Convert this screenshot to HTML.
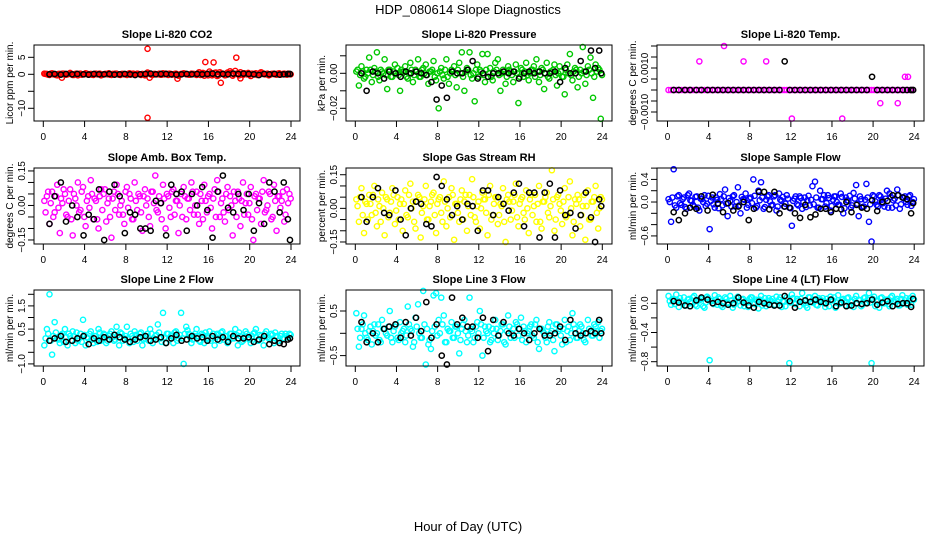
<!DOCTYPE html>
<html><head><meta charset="utf-8"><style>
html,body{margin:0;padding:0;background:#fff;}
svg{display:block;font-family:"Liberation Sans",Arial,sans-serif;}
</style></head><body>
<svg id="chart" width="936" height="540" viewBox="0 0 936 540">
<text x="468" y="14" font-size="13" text-anchor="middle">HDP_080614  Slope Diagnostics</text>
<text x="468" y="531" font-size="13" text-anchor="middle">Hour of Day (UTC)</text>
</svg>
<script>
const tColor=[0.1,0.35,0.6,0.85,1.1,1.35,1.6,1.85,2.1,2.35,2.6,2.85,3.1,3.35,3.6,3.85,4.1,4.35,4.6,4.85,5.1,5.35,5.6,5.85,6.1,6.35,6.6,6.85,7.1,7.35,7.6,7.85,8.1,8.35,8.6,8.85,9.1,9.35,9.6,9.85,10.1,10.35,10.6,10.85,11.1,11.35,11.6,11.85,12.1,12.35,12.6,12.85,13.1,13.35,13.6,13.85,14.1,14.35,14.6,14.85,15.1,15.35,15.6,15.85,16.1,16.35,16.6,16.85,17.1,17.35,17.6,17.85,18.1,18.35,18.6,18.85,19.1,19.35,19.6,19.85,20.1,20.35,20.6,20.85,21.1,21.35,21.6,21.85,22.1,22.35,22.6,22.85,23.1,23.35,23.6,23.85];
const tColor2=[0.22,0.47,0.72,0.97,1.22,1.47,1.72,1.97,2.22,2.47,2.72,2.97,3.22,3.47,3.72,3.97,4.22,4.47,4.72,4.97,5.22,5.47,5.72,5.97,6.22,6.47,6.72,6.97,7.22,7.47,7.72,7.97,8.22,8.47,8.72,8.97,9.22,9.47,9.72,9.97,10.22,10.47,10.72,10.97,11.22,11.47,11.72,11.97,12.22,12.47,12.72,12.97,13.22,13.47,13.72,13.97,14.22,14.47,14.72,14.97,15.22,15.47,15.72,15.97,16.22,16.47,16.72,16.97,17.22,17.47,17.72,17.97,18.22,18.47,18.72,18.97,19.22,19.47,19.72,19.97,20.22,20.47,20.72,20.97,21.22,21.47,21.72,21.97,22.22,22.47,22.72,22.97,23.22,23.47,23.72,23.97];
const tBlack=[0.6,1.1,1.7,2.2,2.8,3.3,3.9,4.4,4.9,5.4,5.9,6.4,6.9,7.4,7.9,8.4,8.9,9.4,9.9,10.4,10.9,11.4,11.9,12.4,12.9,13.4,13.9,14.4,14.9,15.4,15.9,16.4,16.9,17.4,17.9,18.4,18.9,19.4,19.9,20.4,20.9,21.4,21.9,22.4,22.9,23.3,23.7,23.9];
const xTicks=[0,4,8,12,16,20,24];

const co2Color=[0.2,0.1,-0.2,0.3,0,-0.3,0.1,0.2,-0.1,0,0.4,-0.2,0.1,-0.3,0.2,0,0.3,-0.1,0.1,-0.2,0.2,0.1,-0.3,0,0.1,0.3,-0.2,0,0.2,-0.1,0.1,0,-0.2,0.3,0.1,-0.1,0.2,0,0.1,-0.3,0.5,0.2,-0.2,0.1,0,-0.1,0.3,0.2,-0.2,0.1,0,0.2,-0.4,0.1,0.3,0,-0.1,0.2,0.1,-0.2,0.6,0.3,-0.4,0.2,0.8,-0.3,0.4,-0.5,0.6,0.2,-0.3,0.5,0.9,-0.4,1.0,0.3,0.6,-0.2,0.2,0.4,-0.5,0.1,0.3,-0.2,0.6,0.2,0,-0.3,0.1,0.2,-0.1,0.3,0,0.2,-0.1,0.1];
const co2Color2=[0.1,-0.1,0.2,0,-0.2,0.1,0,0.2,-0.1,0.1,0,-0.2,0.2,0.1,-0.1,0,0.2,0,-0.1,0.1,0,0.2,-0.1,0.1,0,-0.1,0.1,0.2,0,-0.2,0.1,0,0.1,-0.1,0.2,0,0.1,-0.2,0,0.1,0.2,-0.1,0.1,0,0.2,-0.1,0,0.1,0.2,-0.1,0.1,0,-0.2,0.1,0.2,0,-0.1,0.1,0,0.2,-0.2,0.4,0.1,-0.3,0.3,0,0.5,-0.3,0.2,0.1,-0.2,0.3,0.4,0,0.2,-0.3,0.1,0.3,0,-0.1,0.2,0,-0.2,0.3,0.1,0,0.2,-0.1,0.1,0,0.2,-0.1,0.1,0,0.2,0];
const co2Black=[0,0.1,-0.1,0.1,0,0.1,0,-0.1,0.1,0,0,0.1,-0.1,0,0.1,0,-0.2,0,0.1,0.2,0,0.1,0.1,0,-0.1,0,0.1,0,0.1,0,0.1,0.2,0,0.1,0,0.2,0.1,0.2,0.1,0,-0.2,0.1,0,0.1,-0.1,0,0.1,0.1];
const co2OutX=[10.1,10.1,15.7,16.5,18.7,17.2,1.8,13.0,19.1,10.3];
const co2OutY=[7.5,-12.8,3.6,3.5,4.9,-2.5,-1.0,-1.3,-1.2,-1.0];

const presColor=[0.001,-0.007,0.004,-0.003,0.002,0.009,-0.005,0.003,0.012,-0.004,0.001,0.008,-0.009,0.002,-0.002,0.005,0.003,-0.010,0.001,0.004,-0.003,0.006,-0.005,0.002,0.008,-0.002,0.003,0.005,-0.006,0.001,0.007,-0.004,-0.020,0.003,-0.003,0.008,-0.006,0.002,0.004,-0.008,0.006,0.012,-0.010,0.003,0.012,-0.003,-0.016,0.005,0.002,0.011,-0.005,0.011,0.003,-0.004,0.006,0.008,-0.010,0.002,-0.006,0.004,0.001,-0.005,0.005,-0.017,0.003,-0.002,0.006,-0.004,0.002,0.004,0.008,-0.005,0.003,-0.009,0.006,-0.003,0.001,0.005,-0.007,0.004,-0.002,-0.012,0.005,0.011,-0.004,0.003,-0.008,0.002,0.015,-0.006,0.004,0.009,-0.014,0.005,0.003,-0.026];
const presColor2=[0.002,-0.001,0.001,-0.002,0.000,0.002,-0.001,0.001,-0.002,0.002,0.000,-0.001,0.002,-0.002,0.001,0.000,-0.001,0.002,0.001,-0.002,0.000,0.002,-0.001,0.001,-0.002,0.002,0.000,-0.001,0.001,0.002,-0.002,0.000,0.001,-0.001,0.002,-0.002,0.000,0.001,-0.001,0.002,0.000,-0.002,0.001,0.002,-0.001,0.000,0.002,-0.002,0.001,-0.001,0.002,0.000,-0.002,0.001,0.002,-0.001,0.000,0.001,-0.002,0.002,-0.001,0.001,0.000,-0.002,0.002,0.001,-0.001,0.000,0.002,-0.002,0.001,-0.001,0.002,0.000,-0.002,0.001,0.002,-0.001,0.000,0.001,-0.002,0.002,0.000,-0.001,0.001,0.002,-0.002,0.000,0.001,-0.001,0.002,0.000,-0.002,0.001,0.002,-0.001];
const presBlack=[0,-0.010,0.001,0,-0.003,0.001,0,-0.002,0.001,0,0.001,0,-0.001,-0.005,-0.015,-0.007,-0.014,0.001,0,0,0.002,0.007,-0.003,0,-0.002,0,0,0.001,0,0.001,-0.003,0,0.001,0,0.001,0,0,0.001,-0.005,0.003,0,0,0.007,0.001,0.013,0.003,0.013,0];

const tempColor=[0,0,0,0,0,0,0,0,0,0,0,0,0,0,0,0,0,0,0,0,0,0,0,0,0,0,0,0,0,0,0,0,0,0,0,0,0,0,0,0,0,0,0,0,0,0,0,0,0,0,0,0,0,0,0,0,0,0,0,0,0,0,0,0,0,0,0,0,0,0,0,0,0,0,0,0,0,0,0,0,0,0,0,0,0,0,0,0,0,0,0,0,0,0,0,0];
const tempBlack=[0,0,0,0,0,0,0,0,0,0,0,0,0,0,0,0,0,0,0,0,0,0.0013,0,0,0,0,0,0,0,0,0,0,0,0,0,0,0,0,0.0006,0,0,0,0,0,0,0,0,0];
const tempOutX=[3.1,5.5,7.4,9.6,12.1,17.0,20.7,22.4,23.1,23.4];
const tempOutY=[0.0013,0.0020,0.0013,0.0013,-0.0013,-0.0013,-0.0006,-0.0006,0.0006,0.0006];

const ambColor=[0.02,0.04,-0.08,0.06,-0.03,0.09,-0.12,0.01,0.05,-0.05,0.07,-0.13,0.03,0.10,-0.02,0.08,-0.09,0.04,0.11,-0.06,0.02,-0.10,0.07,0.05,-0.07,0.03,-0.14,0.06,0.09,-0.04,0.02,-0.08,0.08,0.05,-0.06,0.10,-0.02,0.04,-0.11,0.07,0.03,-0.09,0.06,0.13,-0.03,0.01,0.09,-0.10,0.04,-0.05,0.07,0.02,-0.12,0.05,0.08,-0.06,0.03,0.10,-0.04,0.06,-0.08,0.02,0.09,-0.03,0.05,-0.10,0.07,0.11,-0.05,0.03,-0.07,0.08,0.04,-0.13,0.02,0.06,-0.09,0.10,0.01,-0.04,0.08,-0.15,0.05,0.03,-0.08,0.11,-0.02,0.06,-0.06,0.09,-0.11,0.04,0.02,-0.07,0.07,0.05];
const ambColor2=[-0.03,0.06,0.01,-0.05,0.04,-0.01,0.03,0.07,-0.04,0.02,-0.06,0.05,0.00,-0.03,0.06,-0.05,0.02,-0.01,0.05,0.03,-0.06,0.04,-0.02,0.07,0.01,-0.05,0.03,-0.02,0.05,0.00,-0.04,0.06,-0.01,0.03,-0.06,0.02,0.05,-0.03,0.04,0.00,-0.05,0.06,0.01,-0.02,0.04,-0.06,0.03,0.05,-0.01,0.06,-0.04,0.02,0.00,-0.05,0.04,0.03,-0.02,0.06,0.00,-0.04,0.05,-0.06,0.02,0.04,-0.01,0.03,-0.05,0.06,0.01,-0.03,0.05,-0.02,0.00,0.06,-0.05,0.03,0.02,-0.04,0.05,0.01,-0.06,0.04,-0.02,0.03,0.06,-0.03,0.00,0.05,-0.05,0.02,0.04,-0.01,0.06,-0.04,0.01,0.03];
const ambBlack=[-0.08,0.04,0.10,-0.07,0.00,-0.05,-0.13,-0.04,-0.06,0.07,-0.15,0.06,0.09,0.04,-0.12,-0.03,-0.04,-0.10,-0.10,-0.11,0.02,0.01,-0.13,0.09,0.05,0.06,-0.11,0.05,0.00,0.08,-0.02,-0.14,0.06,0.13,-0.01,-0.03,0.05,-0.02,0.05,-0.11,0.01,-0.08,0.10,0.06,-0.03,0.10,-0.06,-0.15];

const rhColor=[0.04,-0.06,0.09,-0.11,0.02,0.06,-0.03,0.10,-0.08,0.01,0.07,-0.12,0.04,-0.02,0.09,-0.07,0.05,0.02,-0.10,0.08,-0.04,0.11,0.03,-0.09,0.06,-0.13,0.01,0.10,-0.05,0.03,0.07,-0.11,0.04,-0.02,0.12,-0.08,0.05,0.09,-0.14,0.02,-0.06,0.08,0.03,-0.10,0.06,0.13,-0.04,0.01,-0.09,0.07,0.04,-0.12,0.10,-0.03,0.05,-0.07,0.02,0.09,-0.15,0.06,-0.05,0.03,0.11,-0.08,0.04,-0.02,0.08,-0.11,0.06,0.01,-0.06,0.10,-0.09,0.03,0.07,-0.04,0.17,-0.10,0.05,0.02,-0.07,0.09,-0.03,0.12,-0.12,0.04,0.06,-0.08,0.01,-0.14,0.08,-0.05,0.03,0.10,-0.09,0.05];
const rhColor2=[0.01,0.05,-0.03,0.03,-0.05,0.02,0.06,-0.02,0.04,-0.06,0.00,0.05,-0.04,0.03,0.06,-0.01,-0.05,0.04,0.02,-0.03,0.06,0.00,-0.06,0.03,0.05,-0.02,0.04,-0.05,0.01,0.06,-0.03,0.02,0.05,-0.06,0.03,0.00,-0.04,0.06,0.02,-0.02,0.04,-0.05,0.06,0.01,-0.03,0.05,-0.06,0.03,0.00,0.04,-0.02,0.06,-0.05,0.02,0.05,-0.03,0.01,-0.06,0.04,0.03,-0.01,0.06,-0.04,0.02,0.05,-0.05,0.00,0.04,-0.03,0.06,0.02,-0.06,0.03,0.05,-0.02,0.01,0.04,-0.05,0.06,-0.01,0.03,-0.04,0.05,0.00,-0.06,0.02,0.04,-0.03,0.06,0.01,-0.05,0.03,0.05,-0.02,0.00,0.04];
const rhBlack=[0.05,-0.06,0.05,0.09,-0.02,-0.03,0.08,-0.05,-0.12,0.00,0.03,0.02,-0.07,-0.08,0.14,0.10,0.04,-0.03,0.01,-0.05,0.02,0.01,-0.10,0.08,0.08,-0.03,0.05,0.02,-0.01,0.07,0.11,-0.08,0.07,0.07,-0.13,0.07,0.11,-0.13,0.08,-0.03,-0.02,-0.09,-0.03,0.07,-0.04,-0.15,0.04,0.01];

const sampColor=[0.05,-0.35,0.58,-0.1,0.12,-0.05,0.08,-0.12,0.15,0.02,-0.08,0.1,-0.15,0.05,0.12,-0.03,-0.48,0.08,-0.1,0.04,0.14,-0.06,0.22,-0.25,0.02,0.1,-0.08,0.26,-0.2,0.05,0.15,-0.05,0.08,0.4,-0.1,0.2,0.35,-0.12,0.04,0.12,-0.06,0.1,-0.15,0.15,0.02,-0.08,0.12,-0.1,-0.42,0.06,-0.04,0.1,-0.12,0.08,0.03,-0.06,0.28,0.36,-0.1,0.2,0.05,-0.08,0.12,-0.15,0.04,0.1,-0.05,0.15,-0.2,0.08,0.02,-0.1,0.16,0.3,-0.25,0.05,-0.08,0.32,-0.35,-0.7,0.1,-0.05,0.12,0.04,-0.08,0.2,0.15,-0.1,0.06,0.22,-0.12,0.08,0.1,-0.05,0.12,0.0];
const sampColor2=[0.0,0.08,-0.06,0.1,-0.02,0.05,-0.09,0.12,0.03,-0.05,0.09,-0.1,0.06,0.0,-0.07,0.11,0.02,-0.04,0.08,-0.11,0.05,0.1,-0.03,0.07,-0.08,0.12,0.0,-0.06,0.09,0.04,-0.1,0.06,-0.02,0.11,-0.07,0.03,0.08,-0.09,0.1,0.01,-0.05,0.12,-0.08,0.04,0.09,-0.03,0.06,-0.11,0.02,0.1,-0.06,0.07,0.0,-0.09,0.11,0.04,-0.04,0.08,-0.1,0.05,0.12,-0.02,0.07,-0.07,0.1,0.0,-0.05,0.09,-0.11,0.03,0.11,-0.06,0.06,-0.03,0.1,-0.09,0.04,0.08,-0.04,0.12,0.01,-0.08,0.1,-0.02,0.06,-0.1,0.09,0.03,-0.06,0.12,-0.04,0.07,0.0,0.1,-0.07,0.05];
const sampBlack=[-0.18,-0.32,-0.2,-0.1,-0.12,0.1,-0.15,0.13,-0.03,-0.18,-0.02,-0.15,-0.08,0.0,-0.32,-0.12,0.18,0.18,-0.13,0.18,-0.2,-0.08,-0.1,-0.2,-0.28,-0.05,-0.27,-0.22,-0.12,-0.12,-0.18,-0.12,-0.13,0.0,-0.18,-0.05,-0.1,-0.12,0.03,-0.16,0.0,0.02,0.12,0.12,0.08,0.05,-0.2,-0.02];

const l2Color=[-0.2,0.5,2.0,-0.6,0.8,0.1,-0.1,0.3,0.5,-0.2,0.2,0.4,-0.1,0.0,0.3,0.9,-0.2,0.1,0.4,-0.1,0.2,0.5,0.0,0.3,-0.1,0.2,0.4,0.0,0.6,-0.2,0.3,0.1,0.6,-0.1,0.2,0.4,0.0,0.3,-0.2,0.1,0.3,0.5,-0.1,0.2,0.7,0.1,1.2,-0.1,0.3,0.2,-0.1,0.4,0.1,1.2,-1.0,0.6,0.3,-0.1,0.2,0.5,0.0,0.3,-0.1,0.2,0.4,0.1,-0.2,0.3,0.0,0.4,0.2,-0.1,0.3,0.1,0.5,-0.2,0.2,0.0,0.4,0.1,-0.1,0.3,0.5,0.0,0.2,-0.2,0.4,0.1,0.3,-0.1,0.2,0.0,0.3,0.1,0.2,0.3];
const l2Color2=[0.1,0.3,0.0,0.2,0.35,0.05,0.25,-0.05,0.15,0.3,0.0,0.2,0.35,0.1,-0.05,0.25,0.15,0.3,0.05,0.2,-0.05,0.35,0.1,0.25,0.0,0.3,0.15,0.05,0.25,0.35,0.0,0.2,0.1,0.3,-0.05,0.25,0.15,0.35,0.05,0.2,0.0,0.3,0.1,0.25,0.35,-0.05,0.15,0.3,0.05,0.2,0.35,0.0,0.25,0.1,0.3,0.45,0.15,0.05,0.3,0.2,-0.05,0.25,0.35,0.1,0.0,0.3,0.15,0.25,0.35,0.05,0.2,0.0,0.3,0.1,0.25,0.35,-0.05,0.15,0.3,0.05,0.2,0.35,0.0,0.25,0.1,0.3,0.15,0.05,0.25,0.35,0.0,0.2,0.1,0.3,0.15,0.25];
const l2Black=[0.0,0.1,0.2,-0.05,0.0,0.1,0.2,-0.15,0.1,0.0,0.15,0.05,0.25,0.15,0.05,-0.05,0.05,0.15,0.2,0.0,0.05,0.15,-0.1,0.1,0.25,0.0,0.05,0.2,0.1,0.15,0.0,0.2,0.05,0.15,-0.05,0.2,0.1,0.1,0.15,-0.05,0.05,0.2,-0.15,0.0,-0.1,-0.15,0.05,0.1];

const l3Color=[0.45,-0.3,0.1,0.4,-0.1,0.05,-0.25,0.2,0.0,-0.15,0.3,0.1,-0.05,0.5,-0.2,0.15,-0.1,0.25,0.05,-0.2,0.6,0.1,-0.3,0.35,0.65,-0.1,0.95,-0.7,-0.25,-0.35,0.85,0.9,0.3,0.8,0.4,-0.2,0.05,0.25,-0.1,0.15,-0.45,0.1,0.3,-0.2,0.8,0.05,-0.1,0.25,0.5,-0.5,0.15,0.0,-0.2,0.1,0.3,-0.15,0.05,0.2,-0.25,0.4,-0.1,0.1,0.25,-0.05,0.35,0.15,-0.2,0.05,0.2,-0.1,0.3,-0.35,0.1,0.0,-0.2,0.25,0.05,-0.4,0.2,0.1,-0.25,0.3,0.05,-0.15,0.45,0.1,-0.1,0.2,0.0,-0.2,0.3,0.05,-0.05,0.15,0.25,0.05];
const l3Color2=[0.1,-0.1,0.2,0.0,-0.15,0.15,0.05,-0.05,0.2,-0.2,0.1,0.0,0.15,-0.1,0.05,0.2,-0.15,0.0,0.1,-0.05,0.2,0.05,-0.2,0.15,0.0,-0.1,0.2,0.1,-0.15,0.05,0.15,-0.05,0.0,0.2,-0.2,0.1,0.05,-0.1,0.15,0.0,-0.15,0.2,0.05,-0.05,0.1,-0.2,0.15,0.0,0.2,-0.1,0.05,0.15,-0.15,0.0,0.1,-0.05,0.2,-0.2,0.05,0.15,0.0,-0.1,0.2,0.1,-0.15,0.05,0.0,0.15,-0.05,0.2,-0.2,0.1,0.05,-0.1,0.15,0.0,-0.15,0.2,0.05,-0.05,0.1,-0.2,0.15,0.0,0.2,-0.1,0.05,0.15,-0.15,0.0,0.1,-0.05,0.2,0.05,-0.1,0.1];
const l3Black=[0.25,-0.2,0.0,-0.2,0.1,0.15,0.2,-0.1,0.25,-0.05,0.35,0.05,0.7,-0.1,0.2,-0.5,-0.7,0.8,0.2,0.35,0.15,0.15,-0.1,0.35,-0.4,0.3,-0.05,0.25,0.0,-0.05,0.1,0.0,-0.15,0.0,0.1,-0.05,-0.05,0.0,0.15,-0.15,0.3,0.0,-0.05,0.0,0.05,0.0,0.3,0.0];

const l4Color=[0.1,-0.02,0.05,0.12,-0.05,0.02,0.08,-0.03,0.06,0.0,0.1,-0.04,0.04,0.07,-0.06,0.09,-0.78,0.03,0.11,-0.02,0.06,-0.05,0.08,0.01,0.1,-0.06,0.04,0.09,-0.03,0.06,0.02,-0.05,0.08,0.0,0.05,-0.07,0.1,0.02,-0.04,0.07,0.03,-0.03,0.09,0.05,-0.05,0.02,0.08,-0.82,0.12,0.0,0.06,-0.04,0.14,0.03,-0.06,0.08,0.01,0.1,-0.03,0.05,0.07,-0.05,0.02,0.09,0.04,-0.06,0.11,0.0,0.06,-0.03,0.08,0.02,-0.05,0.1,0.05,-0.04,0.07,0.01,0.14,-0.82,0.09,0.03,-0.06,0.08,0.0,0.05,-0.04,0.1,0.02,0.06,-0.03,0.11,0.04,-0.02,0.07,0.1];
const l4Color2=[0.03,0.06,-0.01,0.04,0.07,0.0,-0.03,0.05,0.02,0.08,-0.02,0.04,0.06,-0.04,0.01,0.07,0.03,-0.01,0.05,0.08,-0.03,0.02,0.06,0.0,0.04,-0.02,0.07,0.03,0.05,-0.04,0.01,0.06,0.08,-0.01,0.03,0.05,-0.03,0.07,0.0,0.04,0.06,-0.02,0.02,0.08,0.03,-0.04,0.05,0.01,0.07,-0.01,0.04,0.06,0.0,-0.03,0.08,0.02,0.05,-0.02,0.07,0.03,0.0,0.06,-0.04,0.04,0.08,0.01,-0.01,0.05,0.03,0.07,-0.03,0.02,0.06,0.0,0.04,-0.02,0.08,0.05,0.01,0.06,-0.04,0.03,0.07,0.0,0.05,-0.01,0.08,0.02,0.04,-0.03,0.06,0.01,0.07,0.03,-0.02,0.05];
const l4Black=[0.03,0.01,-0.03,-0.04,0.04,0.08,0.05,0.0,0.02,0.0,-0.02,0.0,0.08,0.01,-0.03,-0.06,0.02,0.0,-0.02,-0.03,-0.03,0.1,0.03,-0.06,0.02,0.04,0.02,0.05,0.02,0.0,0.05,-0.04,0.01,-0.04,-0.03,0.0,-0.01,0.0,0.05,-0.02,0.01,0.03,-0.04,-0.01,0.0,0.0,-0.05,0.06];

const panels=[
 {name:'co2',title:'Slope Li-820 CO2',ylab:'Licor ppm per min.',col:'#ff0000',c:co2Color,c2:co2Color2,b:co2Black,ox:co2OutX,oy:co2OutY,x0:34,x1:300,y0:45,y1:121,xa:43.3,xb:291,ymin:-13.74,ymax:8.62,ticks:[-10,-5,0,5],labels:[-10,0,5],dec:0},
 {name:'pressure',title:'Slope Li-820 Pressure',ylab:'kPa per min.',col:'#00c800',c:presColor,c2:presColor2,b:presBlack,x0:346,x1:612,y0:45,y1:121,xa:355.3,xb:602.3,ymin:-0.02726,ymax:0.01617,ticks:[-0.02,-0.01,0,0.01],labels:[-0.02,0],dec:2},
 {name:'temp',title:'Slope Li-820 Temp.',ylab:'degrees C per min.',col:'#ff00ff',c:tempColor,b:tempBlack,ox:tempOutX,oy:tempOutY,x0:657,x1:924,y0:45,y1:121,xa:667.5,xb:914.2,ymin:-0.001409,ymax:0.002045,ticks:[-0.001,-0.0005,0,0.0005,0.001,0.0015,0.002],labels:[-0.001,0.001],dec:4},
 {name:'amb-box-temp',title:'Slope Amb. Box Temp.',ylab:'degrees C per min.',col:'#ff00ff',c:ambColor,c2:ambColor2,b:ambBlack,x0:34,x1:300,y0:168,y1:244,xa:43.3,xb:291,ymin:-0.1675,ymax:0.1628,ticks:[-0.15,-0.1,-0.05,0,0.05,0.1,0.15],labels:[-0.15,0,0.15],dec:2},
 {name:'gas-stream-rh',title:'Slope Gas Stream RH',ylab:'percent per min.',col:'#ffff00',c:rhColor,c2:rhColor2,b:rhBlack,x0:346,x1:612,y0:168,y1:244,xa:355.3,xb:602.3,ymin:-0.159,ymax:0.180,ticks:[-0.15,-0.1,-0.05,0,0.05,0.1,0.15],labels:[-0.15,0,0.15],dec:2},
 {name:'sample-flow',title:'Slope Sample Flow',ylab:'ml/min per min.',col:'#0000ff',c:sampColor,c2:sampColor2,b:sampBlack,x0:657,x1:924,y0:168,y1:244,xa:667.5,xb:914.2,ymin:-0.743,ymax:0.602,ticks:[-0.6,-0.4,-0.2,0,0.2,0.4,0.6],labels:[-0.6,0,0.4],dec:1},
 {name:'line-2-flow',title:'Slope Line 2 Flow',ylab:'ml/min per min.',col:'#00ffff',c:l2Color,c2:l2Color2,b:l2Black,x0:34,x1:300,y0:290,y1:366,xa:43.3,xb:291,ymin:-1.09,ymax:2.185,ticks:[-1,-0.5,0,0.5,1,1.5,2],labels:[-1,0.5,1.5],dec:1},
 {name:'line-3-flow',title:'Slope Line 3 Flow',ylab:'ml/min per min.',col:'#00ffff',c:l3Color,c2:l3Color2,b:l3Black,x0:346,x1:612,y0:290,y1:366,xa:355.3,xb:602.3,ymin:-0.733,ymax:0.971,ticks:[-0.5,0,0.5],labels:[-0.5,0.5],dec:1},
 {name:'line-4-flow',title:'Slope Line 4 (LT) Flow',ylab:'ml/min per min.',col:'#00ffff',c:l4Color,c2:l4Color2,b:l4Black,x0:657,x1:924,y0:290,y1:366,xa:667.5,xb:914.2,ymin:-0.859,ymax:0.182,ticks:[-0.8,-0.6,-0.4,-0.2,0],labels:[-0.8,-0.4,0],dec:1}
];
const NS='http://www.w3.org/2000/svg';
const svg=document.getElementById('chart');
function mk(tag,attrs,parent){const e=document.createElementNS(NS,tag);for(const k in attrs)e.setAttribute(k,attrs[k]);parent.appendChild(e);return e;}
function fmt(v,d){let s=v.toFixed(d);if(s.startsWith('-'))s='\u2212'+s.slice(1);if(/^\u2212?0(\.0+)?$/.test(s))s=s.replace('\u2212','');return s;}
panels.forEach(p=>{
 const g=mk('g',{},svg);
 
 
 const xs=t=>p.xa+(t/24)*(p.xb-p.xa);
 const ys=v=>p.y1-(v-p.ymin)/(p.ymax-p.ymin)*(p.y1-p.y0);
 const cx=(p.x0+p.x1)/2;
 const tt=mk('text',{x:cx,y:p.y0-7,'font-size':11,'font-weight':'bold','text-anchor':'middle'},g);
 tt.textContent=p.title;
 
 
 const yl=mk('text',{transform:`translate(${p.x0-21},${(p.y0+p.y1)/2}) rotate(-90)`,'font-size':10,'text-anchor':'middle'},g);
 yl.textContent=p.ylab;
 
 
 xTicks.forEach(t=>{
  const X=xs(t);
  const tk=mk('line',{x1:X,x2:X,y1:p.y1,y2:p.y1+6,stroke:'#000','stroke-width':1},g);
  
  
  const lb=mk('text',{x:X,y:p.y1+19,'font-size':10,'text-anchor':'middle'},g);
  lb.textContent=t;
  
  
 });
 p.ticks.forEach(v=>{
  const Y=ys(v);
  const tk=mk('line',{x1:p.x0-6,x2:p.x0,y1:Y,y2:Y,stroke:'#000','stroke-width':1},g);
  
  
 });
 p.labels.forEach(v=>{
  const lb=mk('text',{transform:`translate(${p.x0-9},${ys(v)}) rotate(-90)`,'font-size':10,'text-anchor':'middle'},g);
  lb.textContent=fmt(v,p.dec);
  
  
 });
 if(p.c2){const n2=Math.min(p.c2.length,tColor2.length);
 for(let i=0;i<n2;i++){
  const c=mk('circle',{cx:xs(tColor2[i]),cy:ys(p.c2[i]),r:2.6,fill:'none',stroke:p.col,'stroke-width':1.4},g);
  
  
 }}
 const n=Math.min(p.c.length,tColor.length);
 for(let i=0;i<n;i++){
  const c=mk('circle',{cx:xs(tColor[i]),cy:ys(p.c[i]),r:2.6,fill:'none',stroke:p.col,'stroke-width':1.4},g);
  
  
 }
 if(p.ox){for(let i=0;i<p.ox.length;i++){
  const c=mk('circle',{cx:xs(p.ox[i]),cy:ys(p.oy[i]),r:2.6,fill:'none',stroke:p.col,'stroke-width':1.4},g);
  
  
 }}
 const m=Math.min(p.b.length,tBlack.length);
 for(let i=0;i<m;i++){
  const c=mk('circle',{cx:xs(tBlack[i]),cy:ys(p.b[i]),r:2.6,fill:'none',stroke:'#000','stroke-width':1.5},g);
  
  
 }
 const box=mk('rect',{x:p.x0,y:p.y0,width:p.x1-p.x0,height:p.y1-p.y0,fill:'none',stroke:'#000','stroke-width':1},g);
 
 
});
</script>
</body></html>
